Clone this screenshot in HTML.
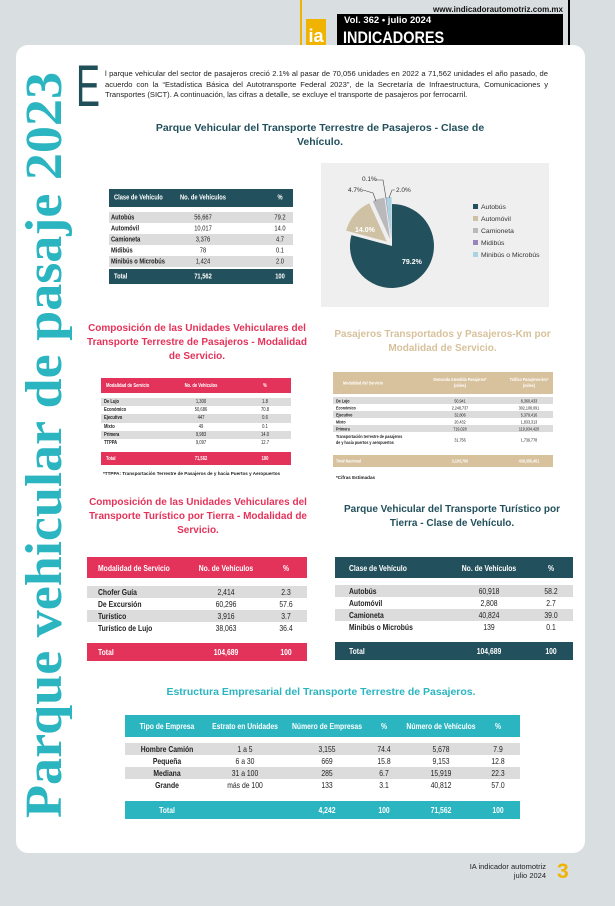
<!DOCTYPE html>
<html><head><meta charset="utf-8"><style>
*{margin:0;padding:0;box-sizing:border-box}
body{width:615px;height:906px;background:#d9dee1;position:relative;overflow:hidden;font-family:"Liberation Sans",sans-serif}
.a{position:absolute}
.card{left:16px;top:45px;width:569px;height:808px;background:#fff;border-radius:12px}
.t{position:absolute;font-family:"Liberation Sans Narrow","Liberation Sans",sans-serif;font-weight:bold;color:#222}
.row{position:absolute;left:0;right:0}
.row span{position:absolute;top:50%;transform:translate(-50%,-50%) scaleX(0.82);white-space:nowrap}
.row span.l{transform:translate(0,-50%) scaleX(0.82);transform-origin:left center}
.g{background:#dcdcdc}
.h{font-weight:bold;text-align:center;position:absolute;line-height:14px}
</style></head><body>
<!-- header -->
<div class="a" style="left:300px;top:0;width:2px;height:45px;background:#f0b400"></div>
<div class="a" style="left:568px;top:0;width:2px;height:45px;background:#000"></div>
<div class="a" style="left:340px;top:5px;width:223px;text-align:right;font-size:8px;font-weight:bold;color:#111">www.indicadorautomotriz.com.mx</div>
<div class="a" style="left:337px;top:14px;width:226px;height:31px;background:#000"></div>
<div class="a" style="left:344px;top:15px;font-size:9.5px;font-weight:bold;color:#fff">Vol. 362 • julio 2024</div>
<div class="a" style="left:343px;top:28px;font-size:17px;font-weight:bold;color:#fff;transform:scaleX(0.85);transform-origin:left">INDICADORES</div>
<div class="a" style="left:306px;top:19px;width:20px;height:26px;background:#f0b400;color:#fff;font-size:18px;font-weight:bold;text-align:center;line-height:34px">ia</div>
<div class="a card"></div>
<!-- vertical title -->
<svg class="a" style="left:0;top:0" width="100" height="906"><text transform="translate(61,818) rotate(-90)" font-family="Liberation Serif,serif" font-weight="bold" font-size="52" fill="#2ab5c0" textLength="746" lengthAdjust="spacingAndGlyphs">Parque vehicular de pasaje 2023</text></svg>
<!-- intro -->
<div class="a" style="left:76px;top:58px;font-size:58px;line-height:58px;color:#1f4f58;transform:scaleX(0.62);transform-origin:left">E</div>
<div class="a" style="left:105px;top:69px;width:443px;font-size:7.6px;line-height:10.7px;color:#222;text-align:justify">l parque vehicular del sector de pasajeros creció 2.1% al pasar de 70,056 unidades en 2022 a 71,562 unidades el año pasado, de acuerdo con la “Estadística Básica del Autotransporte Federal 2023”, de la Secretaría de Infraestructura, Comunicaciones y Transportes (SICT). A continuación, las cifras a detalle, se excluye el transporte de pasajeros por ferrocarril.</div>
<div class="h" style="left:150px;top:121px;width:340px;font-size:10.5px;color:#22505c">Parque Vehicular del Transporte Terrestre de Pasajeros - Clase de Vehículo.</div>
<!-- table1 -->
<div class="t" style="left:109px;top:189px;width:184px;height:96px;font-size:7px">
<div class="row" style="top:0;height:18px;background:#22505c;color:#fff"><span class="l" style="left:5px">Clase de Vehículo</span><span style="left:94px">No. de Vehículos</span><span style="left:171px">%</span></div>
<div class="row g" style="top:23px;height:11px"><span class="l" style="left:2px">Autobús</span><span style="left:94px;font-weight:normal">56,667</span><span style="left:171px;font-weight:normal">79.2</span></div>
<div class="row" style="top:34px;height:11px"><span class="l" style="left:2px">Automóvil</span><span style="left:94px;font-weight:normal">10,017</span><span style="left:171px;font-weight:normal">14.0</span></div>
<div class="row g" style="top:45px;height:11px"><span class="l" style="left:2px">Camioneta</span><span style="left:94px;font-weight:normal">3,376</span><span style="left:171px;font-weight:normal">4.7</span></div>
<div class="row" style="top:56px;height:11px"><span class="l" style="left:2px">Midibús</span><span style="left:94px;font-weight:normal">78</span><span style="left:171px;font-weight:normal">0.1</span></div>
<div class="row g" style="top:67px;height:11px"><span class="l" style="left:2px">Minibús o Microbús</span><span style="left:94px;font-weight:normal">1,424</span><span style="left:171px;font-weight:normal">2.0</span></div>
<div class="row" style="top:80px;height:15px;background:#22505c;color:#fff"><span class="l" style="left:5px">Total</span><span style="left:94px">71,562</span><span style="left:171px">100</span></div>
</div>
<!-- pie -->
<div class="a" style="left:321px;top:163px;width:228px;height:144px;background:#efefef"></div>
<svg class="a" style="left:0;top:0" width="615" height="400">
<path d="M392,246 L392,204 A42,42 0 1 1 351.4,235.1 Z" fill="#22505c"/>
<path d="M386.7,241.5 L346.1,230.6 A42,42 0 0 1 369.3,203.3 Z" fill="#cfc2a4"/>
<path d="M390.1,239.3 L372.7,201.1 A42,42 0 0 1 384.5,197.7 Z" fill="#b9b9bb"/>
<path d="M391,239 L385.5,197.4 A42,42 0 0 1 386.3,197.3 Z" fill="#9a86b8"/>
<path d="M391.6,239 L386.3,197.3 A42,42 0 0 1 391.6,197 Z" fill="#a9d3e0"/>
<text x="355" y="232" font-size="7" font-weight="bold" fill="#fff" font-family="Liberation Sans">14.0%</text>
<text x="402" y="264" font-size="7" font-weight="bold" fill="#fff" font-family="Liberation Sans">79.2%</text>
<g font-size="6.5" font-family="Liberation Sans" fill="#333">
<text x="348" y="192">4.7%</text><text x="362" y="181">0.1%</text><text x="396" y="192">2.0%</text></g>
<path d="M363,190 L373,193 L376,201 M375,180 L383,180 L386,198 M395,190 L392,190 L389,198" stroke="#444" stroke-width="0.6" fill="none"/>
<g font-size="6.8" font-family="Liberation Sans" fill="#333">
<rect x="473" y="204" width="5" height="5" fill="#22505c"/><text x="481" y="209">Autobús</text>
<rect x="473" y="216" width="5" height="5" fill="#cfc2a4"/><text x="481" y="221">Automóvil</text>
<rect x="473" y="228" width="5" height="5" fill="#b9b9bb"/><text x="481" y="233">Camioneta</text>
<rect x="473" y="240" width="5" height="5" fill="#9a86b8"/><text x="481" y="245">Midibús</text>
<rect x="473" y="252" width="5" height="5" fill="#a9d3e0"/><text x="481" y="257">Minibús o Microbús</text></g>
</svg>
<!-- section 2 headings -->
<div class="h" style="left:82px;top:322px;width:230px;font-size:10px;color:#e4335a">Composición de las Unidades Vehiculares del Transporte Terrestre de Pasajeros - Modalidad de Servicio.</div>
<div class="h" style="left:325px;top:328px;width:235px;font-size:10px;color:#d8c19c">Pasajeros Transportados y Pasajeros-Km por Modalidad de Servicio.</div>
<!-- red table1 -->
<div class="t" style="left:101px;top:378px;width:190px;height:88px;font-size:5px">
<div class="row" style="top:0;height:15px;background:#e4335a;color:#fff"><span class="l" style="left:5px">Modalidad de Servicio</span><span style="left:100px">No. de Vehículos</span><span style="left:164px">%</span></div>
<div class="row g" style="top:20px;height:8.2px"><span class="l" style="left:3px">De Lujo</span><span style="left:100px;font-weight:normal">1,300</span><span style="left:164px;font-weight:normal">1.8</span></div>
<div class="row" style="top:28.2px;height:8.2px"><span class="l" style="left:3px">Económico</span><span style="left:100px;font-weight:normal">50,686</span><span style="left:164px;font-weight:normal">70.8</span></div>
<div class="row g" style="top:36.4px;height:8.2px"><span class="l" style="left:3px">Ejecutivo</span><span style="left:100px;font-weight:normal">447</span><span style="left:164px;font-weight:normal">0.6</span></div>
<div class="row" style="top:44.6px;height:8.2px"><span class="l" style="left:3px">Mixto</span><span style="left:100px;font-weight:normal">49</span><span style="left:164px;font-weight:normal">0.1</span></div>
<div class="row g" style="top:52.8px;height:8.2px"><span class="l" style="left:3px">Primera</span><span style="left:100px;font-weight:normal">9,983</span><span style="left:164px;font-weight:normal">14.0</span></div>
<div class="row" style="top:61px;height:8.2px"><span class="l" style="left:3px">TTPPA</span><span style="left:100px;font-weight:normal">9,097</span><span style="left:164px;font-weight:normal">12.7</span></div>
<div class="row" style="top:74px;height:13px;background:#e4335a;color:#fff"><span class="l" style="left:5px">Total</span><span style="left:100px">71,562</span><span style="left:164px">100</span></div>
</div>
<div class="t" style="left:103px;top:471px;font-size:4.6px">*TTPPA: Transportación Terrestre de Pasajeros de y hacia Puertos y Aeropuertos</div>
<!-- tan table -->
<div class="t" style="left:333px;top:372px;width:220px;height:96px;font-size:4.5px">
<div class="row" style="top:0;height:22px;background:#d8c29e;color:#fff"><span class="l" style="left:10px">Modalidad del Servicio</span><span style="left:127px;text-align:center;line-height:6px">Demanda Atendida Pasajeros*<br>(miles)</span><span style="left:196px;text-align:center;line-height:6px">Tráfico Pasajeros-km*<br>(miles)</span></div>
<div class="row g" style="top:25px;height:7px"><span class="l" style="left:3px">De Lujo</span><span style="left:127px;font-weight:normal">50,941</span><span style="left:196px;font-weight:normal">8,360,433</span></div>
<div class="row" style="top:32px;height:7px"><span class="l" style="left:3px">Económico</span><span style="left:127px;font-weight:normal">2,248,737</span><span style="left:196px;font-weight:normal">302,108,091</span></div>
<div class="row g" style="top:39px;height:7px"><span class="l" style="left:3px">Ejecutivo</span><span style="left:127px;font-weight:normal">32,806</span><span style="left:196px;font-weight:normal">5,379,416</span></div>
<div class="row" style="top:46px;height:7px"><span class="l" style="left:3px">Mixto</span><span style="left:127px;font-weight:normal">20,432</span><span style="left:196px;font-weight:normal">1,833,313</span></div>
<div class="row g" style="top:53px;height:7px"><span class="l" style="left:3px">Primera</span><span style="left:127px;font-weight:normal">719,028</span><span style="left:196px;font-weight:normal">119,934,420</span></div>
<div class="row" style="top:60px;height:16px"><span class="l" style="left:3px;line-height:6px">Transportación terrestre de pasajeros<br>de y hacia puertos y aeropuertos</span><span style="left:127px;font-weight:normal">31,756</span><span style="left:196px;font-weight:normal">1,739,778</span></div>
<div class="row" style="top:83px;height:12px;background:#d8c29e;color:#fff"><span class="l" style="left:3px">Total Nacional</span><span style="left:127px">3,103,700</span><span style="left:196px">439,355,451</span></div>
</div>
<div class="t" style="left:336px;top:475px;font-size:4.6px">*Cifras Estimadas</div>
<!-- section 3 headings -->
<div class="h" style="left:82px;top:496px;width:232px;font-size:10px;color:#e4335a">Composición de las Unidades Vehiculares del Transporte Turístico por Tierra - Modalidad de Servicio.</div>
<div class="h" style="left:330px;top:503px;width:244px;font-size:10px;color:#22505c">Parque Vehicular del Transporte Turístico por Tierra - Clase de Vehículo.</div>
<!-- red table2 -->
<div class="t" style="left:87px;top:557px;width:220px;height:104px;font-size:8.3px">
<div class="row" style="top:0;height:21px;background:#e4335a;color:#fff"><span class="l" style="left:11px">Modalidad de Servicio</span><span style="left:139px">No. de Vehículos</span><span style="left:199px">%</span></div>
<div class="row g" style="top:29px;height:12px"><span class="l" style="left:11px">Chofer Guía</span><span style="left:139px;font-weight:normal">2,414</span><span style="left:199px;font-weight:normal">2.3</span></div>
<div class="row" style="top:41px;height:12px"><span class="l" style="left:11px">De Excursión</span><span style="left:139px;font-weight:normal">60,296</span><span style="left:199px;font-weight:normal">57.6</span></div>
<div class="row g" style="top:53px;height:12px"><span class="l" style="left:11px">Turístico</span><span style="left:139px;font-weight:normal">3,916</span><span style="left:199px;font-weight:normal">3.7</span></div>
<div class="row" style="top:65px;height:12px"><span class="l" style="left:11px">Turístico de Lujo</span><span style="left:139px;font-weight:normal">38,063</span><span style="left:199px;font-weight:normal">36.4</span></div>
<div class="row" style="top:86px;height:18px;background:#e4335a;color:#fff"><span class="l" style="left:11px">Total</span><span style="left:139px">104,689</span><span style="left:199px">100</span></div>
</div>
<!-- dark table2 -->
<div class="t" style="left:335px;top:557px;width:238px;height:104px;font-size:8.3px">
<div class="row" style="top:0;height:21px;background:#22505c;color:#fff"><span class="l" style="left:14px">Clase de Vehículo</span><span style="left:154px">No. de Vehículos</span><span style="left:216px">%</span></div>
<div class="row g" style="top:28px;height:12px"><span class="l" style="left:14px">Autobús</span><span style="left:154px;font-weight:normal">60,918</span><span style="left:216px;font-weight:normal">58.2</span></div>
<div class="row" style="top:40px;height:12px"><span class="l" style="left:14px">Automóvil</span><span style="left:154px;font-weight:normal">2,808</span><span style="left:216px;font-weight:normal">2.7</span></div>
<div class="row g" style="top:52px;height:12px"><span class="l" style="left:14px">Camioneta</span><span style="left:154px;font-weight:normal">40,824</span><span style="left:216px;font-weight:normal">39.0</span></div>
<div class="row" style="top:64px;height:12px"><span class="l" style="left:14px">Minibús o Microbús</span><span style="left:154px;font-weight:normal">139</span><span style="left:216px;font-weight:normal">0.1</span></div>
<div class="row" style="top:85px;height:18px;background:#22505c;color:#fff"><span class="l" style="left:14px">Total</span><span style="left:154px">104,689</span><span style="left:216px">100</span></div>
</div>
<!-- section 4 -->
<div class="h" style="left:120px;top:685px;width:402px;font-size:10.5px;color:#2ab5c0">Estructura Empresarial del Transporte Terrestre de Pasajeros.</div>
<div class="t" style="left:125px;top:715px;width:395px;height:104px;font-size:8.3px">
<div class="row" style="top:0;height:22px;background:#2ab5c0;color:#fff"><span style="left:42px">Tipo de Empresa</span><span style="left:120px">Estrato en Unidades</span><span style="left:202px">Número de Empresas</span><span style="left:259px">%</span><span style="left:316px">Número de Vehículos</span><span style="left:373px">%</span></div>
<div class="row g" style="top:28px;height:12px"><span style="left:42px">Hombre Camión</span><span style="left:120px;font-weight:normal">1 a 5</span><span style="left:202px;font-weight:normal">3,155</span><span style="left:259px;font-weight:normal">74.4</span><span style="left:316px;font-weight:normal">5,678</span><span style="left:373px;font-weight:normal">7.9</span></div>
<div class="row" style="top:40px;height:12px"><span style="left:42px">Pequeña</span><span style="left:120px;font-weight:normal">6 a 30</span><span style="left:202px;font-weight:normal">669</span><span style="left:259px;font-weight:normal">15.8</span><span style="left:316px;font-weight:normal">9,153</span><span style="left:373px;font-weight:normal">12.8</span></div>
<div class="row g" style="top:52px;height:12px"><span style="left:42px">Mediana</span><span style="left:120px;font-weight:normal">31 a 100</span><span style="left:202px;font-weight:normal">285</span><span style="left:259px;font-weight:normal">6.7</span><span style="left:316px;font-weight:normal">15,919</span><span style="left:373px;font-weight:normal">22.3</span></div>
<div class="row" style="top:64px;height:12px"><span style="left:42px">Grande</span><span style="left:120px;font-weight:normal">más de 100</span><span style="left:202px;font-weight:normal">133</span><span style="left:259px;font-weight:normal">3.1</span><span style="left:316px;font-weight:normal">40,812</span><span style="left:373px;font-weight:normal">57.0</span></div>
<div class="row" style="top:86px;height:18px;background:#2ab5c0;color:#fff"><span style="left:42px">Total</span><span style="left:202px">4,242</span><span style="left:259px">100</span><span style="left:316px">71,562</span><span style="left:373px">100</span></div>
</div>
<!-- footer -->
<div class="a" style="left:400px;top:862px;width:146px;text-align:right;font-size:7.5px;line-height:9px;color:#222">IA indicador automotriz<br>julio 2024</div>
<div class="a" style="left:557px;top:860px;font-size:21px;font-weight:bold;color:#f0b400">3</div>
</body></html>
